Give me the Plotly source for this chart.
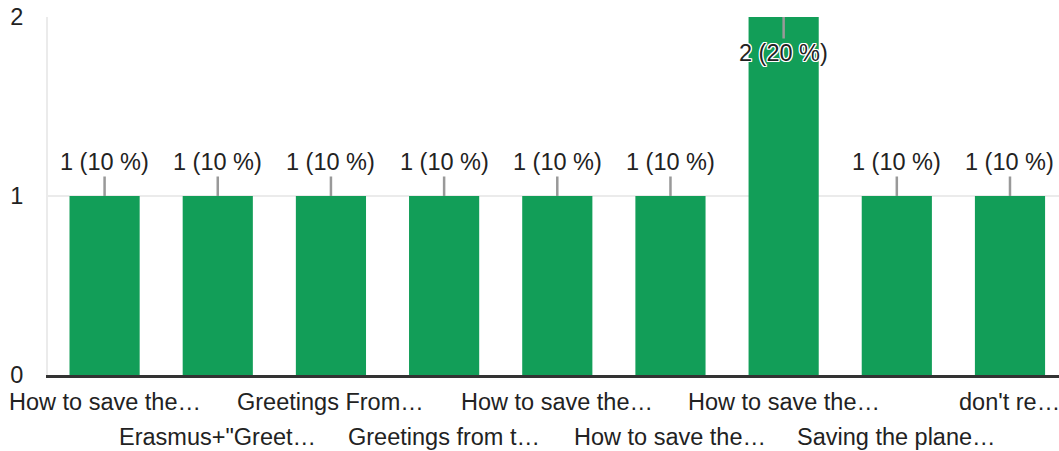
import plotly.graph_objects as go

labels = [
    "How to save the…",
    "Erasmus+\"Greet…",
    "Greetings From…",
    "Greetings from t…",
    "How to save the…",
    "How to save the…",
    "How to save the…",
    "Saving the plane…",
    "don't re…",
]
counts = [1, 1, 1, 1, 1, 1, 2, 1, 1]
total = sum(counts)
pct_labels = [f"{c} ({round(100 * c / total)} %)" for c in counts]
y_ticks = [0, 1, 2]

FONT = "Liberation Sans, Arial, sans-serif"
GREEN = "#129e58"
FS = 23.5
pos = list(range(len(labels)))

fig = go.Figure()
fig.add_trace(go.Bar(
    x=pos, y=counts, width=0.62, marker=dict(color=GREEN, line=dict(width=0)),
    hoverinfo="skip",
))

ymax = max(counts)
halo = ("1px 1px 0px white, -1px -1px 0px white, 1px -1px 0px white, -1px 1px 0px white, "
        "0px 1px 0px white, 0px -1px 0px white, 1px 0px 0px white, -1px 0px 0px white")
for i, (c, t) in enumerate(zip(counts, pct_labels)):
    inside = c == ymax
    fig.add_annotation(
        x=pos[i], y=c, xref="x", yref="y", text=t, showarrow=True,
        arrowhead=0, arrowwidth=2.5, arrowcolor="#999999",
        ax=0, ay=(36 if inside else -34),
        font=dict(family=FONT, size=FS, color="#222222", shadow=(halo if inside else "none")),
    )

for i, lab in enumerate(labels):
    fig.add_annotation(
        x=pos[i], y=0, xref="x", yref="paper", text=lab, showarrow=False,
        yanchor="top", yshift=(-12 if i % 2 == 0 else -47),
        font=dict(family=FONT, size=FS, color="#222222"),
    )

fig.update_layout(
    width=1059, height=451,
    margin=dict(l=48, r=0, t=17, b=76),
    paper_bgcolor="white", plot_bgcolor="white",
    showlegend=False,
    font=dict(family=FONT, size=FS, color="#222222"),
)
fig.update_xaxes(
    range=[-0.5, 8.433], showticklabels=False, showgrid=False, zeroline=False,
    showline=True, linecolor="#333333", linewidth=3, ticks="",
    fixedrange=True,
)
fig.update_yaxes(
    range=[0, 2], tickvals=y_ticks, ticktext=[str(v) for v in y_ticks],
    showgrid=True, gridcolor="#ebebeb", gridwidth=2, zeroline=False,
    showline=True, linecolor="#ebebeb", linewidth=2,
    ticks="", ticklabelstandoff=18,
    tickfont=dict(family=FONT, size=FS, color="#222222"),
    fixedrange=True,
)

fig.write_html(
    "out.html",
    config={"displayModeBar": False},
    post_script="document.body.style.margin='0';document.body.style.padding='0';document.body.style.overflow='hidden';",
)
